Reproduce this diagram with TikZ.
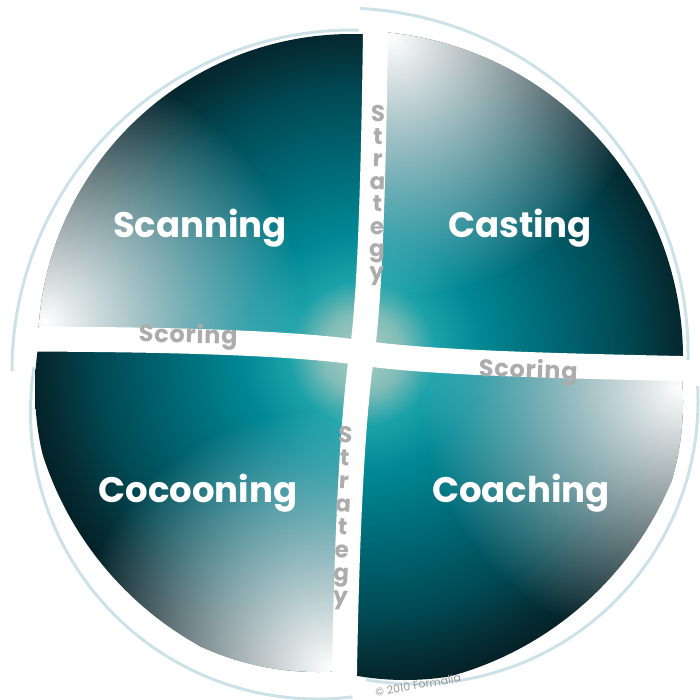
\documentclass[tikz,border=0pt]{standalone}
\usepackage{fontspec}
\setmainfont{Poppins}
\newfontfamily\scorefont[LetterSpace=3]{Poppins}
\usetikzlibrary{fadings}
\definecolor{rimcolor}{RGB}{205,226,232}
\definecolor{wordgray}{RGB}{172,172,172}
\definecolor{notegray}{RGB}{150,150,150}
% teal disc: light glow at the crossing, dark at the rim
\pgfdeclareradialshading{discshade}{\pgfpointorigin}{%
  rgb(0bp)=(0.70,0.80,0.77); rgb(3bp)=(0.50,0.74,0.72);
  rgb(5.5bp)=(0.10,0.63,0.66); rgb(9bp)=(0,0.53,0.58);
  rgb(15bp)=(0,0.39,0.44); rgb(19.5bp)=(0,0.29,0.33);
  rgb(23bp)=(0.02,0.18,0.21); rgb(25bp)=(0.015,0.13,0.155);
  rgb(50bp)=(0.015,0.13,0.155)}
\tikzfading[name=cornerfade, inner color=transparent!0, outer color=transparent!100]

\begin{document}
\begin{tikzpicture}[x=1pt, y=-1pt,
  band/.style={white, line width=25pt},
  rim/.style={rimcolor, line width=3pt},
  whiteglow/.style={white, path fading=cornerfade},
  bigword/.style={white, font=\fontsize{35.5}{40}\selectfont\bfseries},
  scoreword/.style={wordgray, font=\scorefont\fontsize{24}{26}\selectfont\bfseries},
  stratword/.style={wordgray, font=\fontsize{23}{25}\selectfont\bfseries, anchor=base},
  noteword/.style={notegray, font=\fontsize{11}{12}\selectfont}]
  \useasboundingbox (0,0) rectangle (699,700);

  \coordinate (hub) at (362,353);
  \coordinate (north) at (376,-5);
  \coordinate (south) at (344,705);
  \coordinate (west) at (-5,339);
  \coordinate (east) at (704,369);

  % Scanning (top left)
  \begin{scope}
    \clip (west) .. controls (150,339) and (290,342) .. (hub) .. controls (371,290) and (374,150) .. (north) -- (-5,-5) -- cycle;
    \clip (352,348) circle [radius=314];
    \shade[shading=discshade] (hub) circle [radius=335];
    \fill[whiteglow] (45,322) circle [radius=260];
  \end{scope}

  % Casting (top right)
  \begin{scope}
    \clip (north) .. controls (374,150) and (371,290) .. (hub) .. controls (430,363) and (560,366) .. (east) -- (704,-5) -- cycle;
    \clip (356,358) circle [radius=327];
    \shade[shading=discshade] (hub) circle [radius=335];
    \fill[whiteglow] (392,38) circle [radius=260];
  \end{scope}

  % Coaching (bottom right)
  \begin{scope}
    \clip (east) .. controls (560,366) and (430,363) .. (hub) .. controls (352,420) and (346,550) .. (south) -- (704,705) -- cycle;
    \clip (405,402) circle [radius=278];
    \shade[shading=discshade] (hub) circle [radius=335];
    \fill[whiteglow] (680,388) circle [radius=260];
  \end{scope}

  % Cocooning (bottom left)
  \begin{scope}
    \clip (south) .. controls (346,550) and (352,420) .. (hub) .. controls (290,342) and (150,339) .. (west) -- (-5,705) -- cycle;
    \clip (318,389) circle [radius=283];
    \shade[shading=discshade] (hub) circle [radius=335];
    \fill[whiteglow] (330,668) circle [radius=260];
  \end{scope}

  % white gaps between the quarters
  \draw[band] (north) .. controls (374,150) and (371,290) .. (hub) .. controls (352,420) and (346,550) .. (south);
  \draw[band] (west) .. controls (150,339) and (290,342) .. (hub) .. controls (430,363) and (560,366) .. (east);

  % light rims
  \draw[rim] (353,371) ++(180:341) arc [start angle=180, end angle=271, radius=341];
  \draw[rim] (342,354) ++(273:346) arc [start angle=273, end angle=361, radius=346];
  \draw[rim] (415,401) ++(-3:283) arc [start angle=-3, end angle=100, radius=283];
  \draw[rim] (317.5,412) ++(83:287) arc [start angle=83, end angle=189, radius=287];

  % quarter names
  \node[bigword, anchor=base] (scan) at (200,238) {Scanning};
  \node[bigword, anchor=base] (cast) at (520,237) {Casting};
  \node[bigword, anchor=base] (cocoon) at (198,502) {Cocooning};
  \node[bigword, anchor=base] (coach) at (521,502) {Coaching};

  % gap labels
  \node[scoreword, anchor=base, rotate=-1.5] (scoreleft) at (188,343) {Scoring};
  \node[scoreword, anchor=base, rotate=-2] (scoreright) at (528,378) {Scoring};
  \foreach \ch [count=\i from 0] in {S,t,r,a,t,e,g,y}
    \node[stratword, rotate=-1] (up\i) at (378-0.2*\i, 122+22.5*\i) {\ch};
  \foreach \ch [count=\i from 0] in {S,t,r,a,t,e,g,y}
    \node[stratword, rotate=-3] (lo\i) at (345-0.7*\i, 443+23*\i) {\ch};

  \node[noteword, rotate=10] (copy) at (418,685) {© 2010 Formalia};
\end{tikzpicture}
\end{document}
